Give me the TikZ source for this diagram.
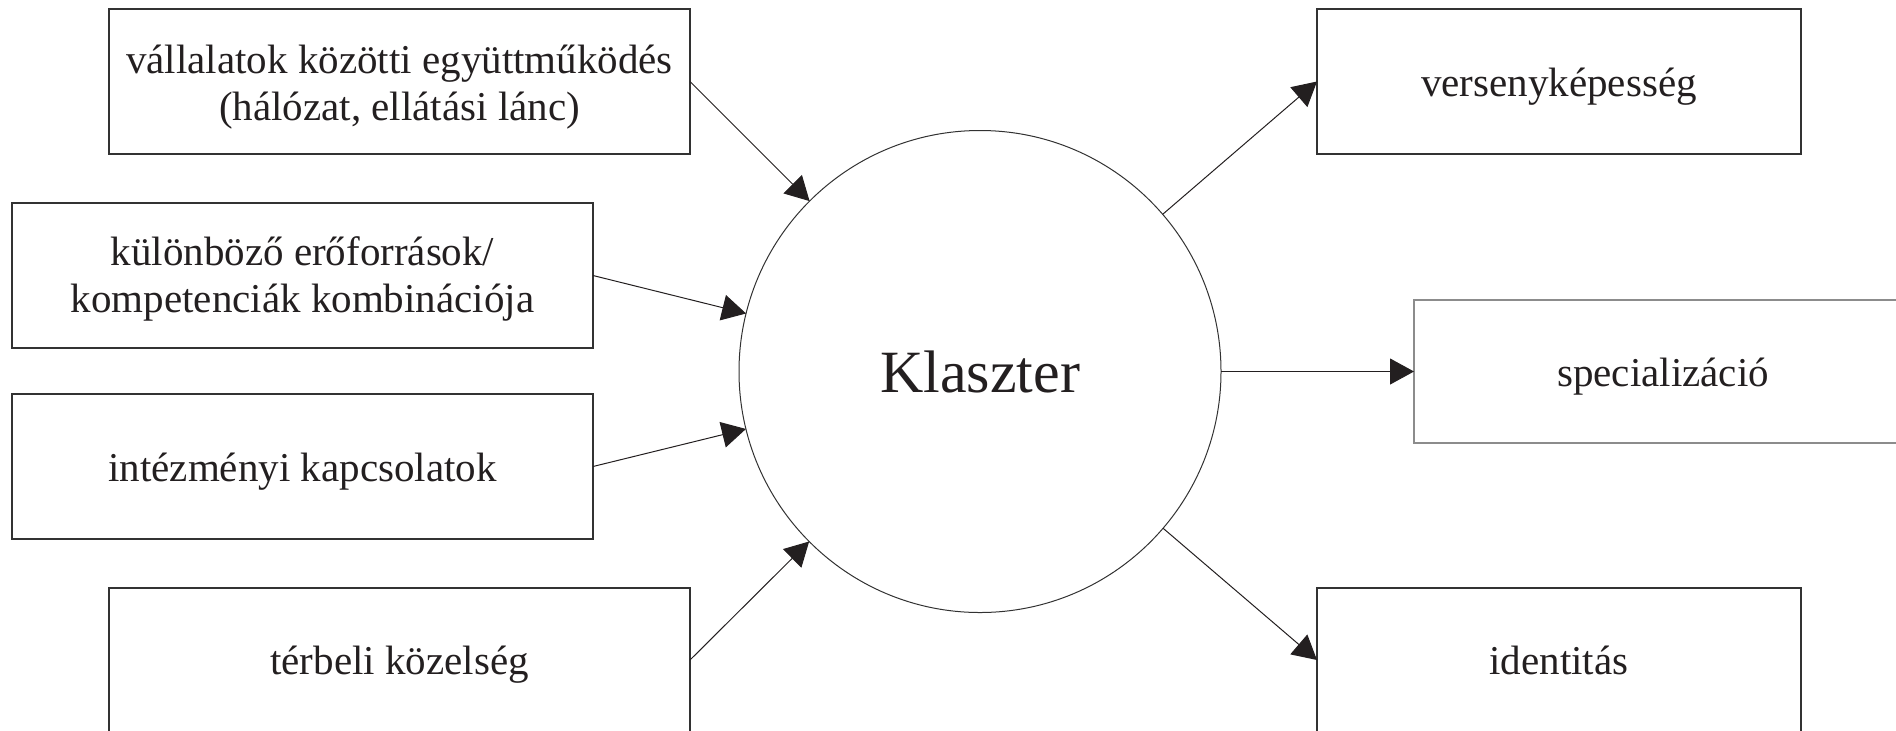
\documentclass[tikz,border=0pt]{standalone}
\usepackage{fontspec}
\setmainfont{Liberation Serif}
\usetikzlibrary{arrows.meta}
\definecolor{ink}{RGB}{35,31,32}
\definecolor{frame}{RGB}{50,50,50}
\definecolor{lightframe}{RGB}{140,140,140}
\begin{document}
\begin{tikzpicture}[x=0.5pt,y=-0.5pt,
  box/.style={draw=frame, line width=0.65pt, inner sep=0pt, outer sep=0pt, align=center, text=ink,
    font=\fontsize{20.5}{23.5}\selectfont, minimum height=72.5pt},
  single/.style={text height=19pt, text depth=4.5pt},
  hub/.style={circle, draw=frame, line width=0.5pt, minimum size=241pt, inner sep=0pt, outer sep=0pt,
    text=ink, font=\fontsize{30}{30}\selectfont},
  conn/.style={draw=ink, line width=0.5pt, -{Triangle[length=12pt,width=13pt]}}
]
\useasboundingbox (0,0) rectangle (1896,730);
\node[hub] (k) at (980,371.5) {Klaszter};
% left boxes
\node[box, minimum width=290.5pt] (b1) at (399.5,81.5) {\rule{0pt}{19.6pt}vállalatok közötti együttműködés\\(hálózat, ellátási lánc)};
\node[box, minimum width=290.5pt] (b2) at (302.5,275.5) {\rule{0pt}{17.4pt}különböző erőforrások/\\kompetenciák kombinációja};
\node[box, single, minimum width=290.5pt] (b3) at (302.5,466.5) {intézményi kapcsolatok};
\node[box, single, minimum width=290.5pt, minimum height=72pt] (b4) at (399.5,660) {térbeli közelség};
% right boxes
\node[box, single, minimum width=242pt] (b5) at (1559,81.5) {versenyképesség};
\node[box, single, draw=lightframe, minimum width=249pt, minimum height=71.5pt] (b6) at (1663,371.5) {specializáció};
\node[box, single, minimum width=242pt, minimum height=72pt] (b7) at (1559,660) {identitás};
% connectors
\draw[conn] (b1.east) -- (k);
\draw[conn] (b2.east) -- (k);
\draw[conn] (b3.east) -- (k);
\draw[conn] (b4.east) -- (k);
\draw[conn] (k) -- (b5.west);
\draw[conn] (k) -- (b6.west);
\draw[conn] (k) -- (b7.west);
\end{tikzpicture}
\end{document}
